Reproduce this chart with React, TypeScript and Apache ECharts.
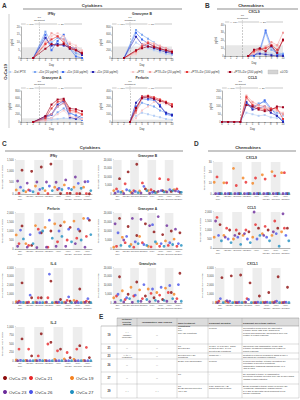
import { useEffect, useRef } from "react";
import * as echarts from "echarts";

const FONT = "Liberation Sans, Arial, Helvetica, sans-serif";

// ---------- Panels A/B: time courses per treatment condition ----------
const conditionNames = [
  "-Dz/-PTX",
  "+Dz (20 µg/ml)",
  "+Dz (100 µg/ml)",
  "+Dz (200 µg/ml)",
  "+PTX",
  "+PTX+Dz (20 µg/ml)",
  "+PTX+Dz (100 µg/ml)",
  "+PTX+Dz (200 µg/ml)",
];
const conditionColors = ["#b6cff5", "#7da7f1", "#3e6df0", "#2a27b3", "#f8c8c8", "#f29c9c", "#e63b3b", "#a1001d"];

const ifngDays = [2, 4, 5, 6, 7, 8, 9, 10];
const ifngValues = [
  [0, 12, 8, 10, 9, 7, 4, 3],
  [0, 17, 10, 13, 12, 6, 3, 2],
  [0, 15, 5, 11, 15, 6, 1, 0],
  [0, 13, 8, 9, 8, 7, 6, 2],
  [0, 8, 14, 16, 14, 10, 8, 5],
  [0, 10, 16, 14, 12, 9, 6, 4],
  [0, 9, 12, 14, 10, 7, 5, 3],
  [0, 6, 9, 8, 9, 6, 5, 3],
];

const gzmbDays = [2, 4, 5, 6, 7, 8, 9, 10];
const gzmbValues = [
  [0, 400, 300, 250, 200, 150, 100, 80],
  [0, 720, 600, 500, 400, 300, 250, 200],
  [0, 650, 480, 380, 300, 250, 180, 150],
  [0, 550, 350, 300, 250, 200, 150, 120],
  [0, 100, 250, 400, 380, 320, 250, 200],
  [0, 150, 350, 420, 350, 300, 250, 180],
  [0, 180, 300, 380, 300, 250, 200, 150],
  [0, 200, 250, 300, 280, 230, 200, 160],
];

const cxcl9Days = [4, 5, 6, 7, 8, 9, 10];
const cxcl9Values = [
  [0, 0, 2, 5, 3, 2, 3],
  [0, 0, 5, 30, 8, 4, 3],
  [0, 0, 8, 33, 12, 2, 1],
  [0, 2, 3, 2, 1, 0, 0],
  [0, 3, 6, 10, 15, 13, 22],
  [0, 5, 8, 12, 18, 14, 30],
  [0, 6, 9, 10, 14, 8, 20],
  [0, 8, 10, 6, 13, 4, 21],
];

const gzmaDays = [2, 4, 5, 6, 7, 8, 9, 10];
const gzmaValues = [
  [0, 30, 60, 80, 100, 90, 70, 50],
  [0, 80, 100, 250, 350, 220, 180, 100],
  [0, 120, 180, 400, 500, 250, 150, 60],
  [0, 150, 200, 450, 550, 120, 80, 180],
  [0, 30, 100, 200, 300, 150, 120, 80],
  [0, 60, 200, 400, 480, 260, 250, 180],
  [0, 100, 350, 520, 560, 300, 280, 200],
  [0, 150, 450, 580, 600, 350, 330, 280],
];

const prfDays = [3, 4, 5, 6, 7, 8, 9, 10];
const prfValues = [
  [0, 80, 120, 100, 80, 60, 40, 30],
  [0, 150, 250, 220, 200, 150, 120, 100],
  [0, 200, 300, 290, 280, 220, 100, 80],
  [0, 250, 330, 310, 300, 200, 120, 90],
  [0, 50, 150, 200, 260, 250, 230, 200],
  [0, 120, 300, 320, 310, 280, 250, 220],
  [0, 150, 330, 340, 320, 290, 260, 230],
  [0, 180, 310, 330, 300, 270, 250, 200],
];

const ccl5Days = [0, 1, 2, 3, 4, 5, 6, 7, 8, 9, 10];
const ccl5Values = [
  [0, 0, 0, 0, 60, 50, 40, 45, 30, 25, 40],
  [0, 0, 0, 0, 110, 90, 120, 130, 80, 60, 50],
  [0, 0, 0, 0, 120, 100, 110, 140, 90, 40, 10],
  [0, 0, 0, 0, 130, 80, 90, 100, 60, 40, 0],
  [0, 0, 0, 0, 150, 120, 100, 90, 80, 70, 60],
  [0, 0, 0, 0, 170, 130, 110, 100, 90, 80, 50],
  [0, 0, 0, 0, 160, 110, 90, 80, 85, 90, 20],
  [0, 0, 0, 0, 110, 100, 80, 70, 75, 100, 95],
];

// ---------- Panels C/D: total AUC per condition and cell line ----------
const treatments = [
  "-Dz/\n-PTX",
  "+Dz(20)",
  "+Dz(100)",
  "+Dz(200)",
  "+PTX",
  "+PTX\n+Dz(20)",
  "+PTX\n+Dz(100)",
  "+PTX\n+Dz(200)",
];
const cellLines = ["OvCa 29", "OvCa 21", "OvCa 19", "OvCa 23", "OvCa 26", "OvCa 27"];
const cellColors = ["#8c0b0b", "#e8282b", "#f5821f", "#6b2b9b", "#4a55e8", "#1f8fc0"];

// rows follow cellLines order
const aucIfng = [
  [1050, 1000, 1190, 1320, 20, 30, 20, 10],
  [30, 180, 20, 20, 200, 30, 20, 20],
  [180, 100, 350, 150, 300, 400, 300, 300],
  [570, 480, 530, 530, 520, 620, 750, 540],
  [300, 150, 200, 350, 250, 250, 470, 550],
  [150, 100, 250, 150, 200, 200, 250, 150],
];
const aucGzmb = [
  [9000, 13000, 17500, 3000, 1500, 2000, 1500, 1000],
  [3000, 6000, 2000, 6500, 2500, 9000, 8500, 3000],
  [2000, 1500, 1000, 1800, 2000, 1000, 1500, 2500],
  [500, 300, 500, 600, 400, 1500, 1200, 1800],
  [1500, 2500, 1500, 4500, 1000, 2000, 2500, 1500],
  [1000, 2000, 800, 2000, 800, 1200, 2000, 1000],
];
const aucCxcl9 = [
  [0.4, 0.4, 0.4, 0.4, 0.4, 0.4, 0.4, 0.4],
  [16, 10.5, 8, 11, 15, 14, 17, 20],
  [11, 10.5, 24, 15, 10, 18, 21, 20],
  [0.4, 0.4, 0.4, 0.4, 0.4, 0.4, 0.4, 0.4],
  [0.4, 0.4, 0.4, 0.4, 0.4, 0.4, 0.4, 0.4],
  [0.4, 0.4, 0.4, 0.4, 0.4, 0.4, 0.4, 0.4],
];
const aucPrf = [
  [1280, 200, 900, 1000, 1300, 1200, 1000, 1600],
  [300, 200, 1100, 100, 400, 500, 600, 700],
  [780, 300, 1300, 1200, 1400, 1500, 1550, 1700],
  [150, 100, 80, 100, 150, 150, 300, 100],
  [1050, 800, 900, 1600, 1000, 1100, 1100, 1700],
  [560, 300, 1000, 600, 700, 400, 500, 800],
];
const aucGzma = [
  [17000, 12500, 7500, 14000, 9500, 8000, 10000, 9000],
  [1500, 3500, 1000, 3500, 1200, 1500, 2000, 1500],
  [1000, 6500, 2500, 7000, 1500, 3000, 4500, 5500],
  [14000, 5000, 17000, 16500, 13000, 18000, 13000, 11000],
  [9000, 7000, 4000, 2500, 13500, 3000, 3500, 3000],
  [2000, 1500, 3000, 2000, 4000, 1500, 2500, 2000],
];
const aucCcl5 = [
  [1300, 1000, 800, 900, 1100, 1000, 1100, 1100],
  [1700, 1100, 1000, 1000, 1300, 1200, 1500, 1100],
  [600, 700, 500, 700, 600, 800, 700, 900],
  [1500, 600, 700, 800, 2000, 700, 900, 1900],
  [700, 500, 600, 500, 500, 600, 800, 700],
  [400, 300, 200, 300, 700, 400, 100, 400],
];
const aucIl6 = [
  [2300, 600, 600, 2500, 400, 200, 1600, 100],
  [200, 100, 600, 600, 50, 300, 200, 200],
  [150, 50, 100, 50, 50, 100, 300, 100],
  [50, 50, 50, 100, 100, 50, 50, 80],
  [100, 900, 50, 3300, 100, 700, 50, 500],
  [80, 60, 50, 50, 50, 50, 50, 50],
];
const aucGnly = [
  [15000, 5000, 12000, 4000, 3000, 2000, 6000, 17000],
  [4000, 2000, 4000, 2500, 5500, 4500, 6000, 2500],
  [3000, 7000, 9000, 7500, 8000, 6000, 8500, 5000],
  [500, 600, 400, 1000, 800, 900, 1000, 800],
  [5000, 3000, 4500, 10500, 8000, 9000, 10000, 10500],
  [1500, 2500, 1000, 2000, 1500, 1500, 2500, 1000],
];
const aucCxcl1 = [
  [2900, 3100, 3200, 2300, 800, 1200, 3000, 1800],
  [200, 100, 50, 500, 50, 100, 150, 100],
  [100, 150, 100, 100, 50, 100, 100, 50],
  [50, 250, 50, 100, 50, 50, 50, 50],
  [500, 200, 100, 400, 100, 100, 200, 100],
  [50, 50, 50, 50, 50, 50, 50, 50],
];
const aucIl2 = [
  [650, 150, 800, 550, 350, 100, 450, 100],
  [350, 350, 150, 500, 300, 250, 350, 400],
  [30, 20, 20, 20, 50, 60, 50, 20],
  [10, 10, 10, 10, 10, 10, 10, 10],
  [20, 10, 20, 10, 10, 10, 10, 10],
  [10, 10, 10, 10, 10, 10, 10, 10],
];

// ---------- Panel E: summary table ----------
const tableHeader = [
  "",
  "Cytokine effector ranking",
  "Inflammatory TME ranking",
  "Main treatment conditions",
  "Dominant mediator",
  "Dominant secretome pattern",
];
const tableIds = ["19", "21", "23", "26", "27", "29"];
const effectorRank = ["+++\n(durable/moderate)", "+/-", "+/- to ++\n(restricted)", "+/-", "+/-", "+++"];
const inflammatoryRank = ["+/-", "+/-", "+/-", "++", "+/-", "+++"];
const mainConditions = [
  "TIL\nPTX\nPTX+Dz conditions",
  "TIL\nSelected Dz",
  "Selected PTX+Dz conditions",
  "Dz/Dz+PTX(20/100/200)",
  "TIL",
  "TIL\nDz(20)/Dz(100)/selected PTX+Dz",
];
const dominantMediator = [
  "Perforin",
  "CXCL9, IL-6/CXCL9, CCL5, CXCL1/CXCL9, IL-6 in selected Dz conditions",
  "Granzyme A",
  "Perforin",
  "-",
  "IFNγ, granzyme A/B, granulysin and perforin",
];
const secretomePattern = [
  "Coordinated cross-donor TIL-associated cytokine profile with IFNγ, granzymes, perforin and granulysin; chemokines were low relative to cohort response",
  "Chemokine-rich inflammatory profile with cytokine mediators remaining low relative to cohort response",
  "Restricted cytotoxic program in which CXCL-9 and CCL5 are condition restricted",
  "Perforin and multiple cytokine mediators are detectable in selected conditions; inflammatory-trafficking signals include IL-6 and CXCL1",
  "No dominant cytokine or inflammatory secretome program; selected PTX+Dz CXCL9/CCL5 signals remain restricted",
  "Broad dominant cytokine profile in TIL/TIL+Dz conditions; inflammatory signals include IL-6 and CXCL1 with effect prominent in TIL and Dz conditions",
];

const AXIS = "#666";
const TXT = "#333";

function buildOption() {
  const grids: any[] = [];
  const xAxes: any[] = [];
  const yAxes: any[] = [];
  const series: any[] = [];
  const g: any[] = [];

  const text = (x: number, y: number, t: string, size: number, extra: any = {}) =>
    g.push({
      type: "text",
      x,
      y,
      silent: true,
      z: 10,
      style: {
        text: t,
        fontSize: size,
        fontFamily: FONT,
        fill: TXT,
        align: "center",
        verticalAlign: "middle",
        ...extra,
      },
    });
  const line = (x1: number, y1: number, x2: number, y2: number, stroke = "#aaa", lineWidth = 0.5, dash?: number[]) =>
    g.push({
      type: "line",
      silent: true,
      z: 10,
      shape: { x1, y1, x2, y2 },
      style: { stroke, lineWidth, lineDash: dash },
    });

  // section headers
  text(2, 5, "A", 6.5, { align: "left", fontWeight: "bold" });
  text(92, 5.5, "Cytokines", 4.3, { fontWeight: "bold" });
  line(23, 9, 182, 9, "#b5b5b5", 1.3);
  text(205, 5, "B", 6.5, { align: "left", fontWeight: "bold" });
  text(251, 5.5, "Chemokines", 4.3, { fontWeight: "bold" });
  line(217, 9, 298, 9, "#b5b5b5", 1.3);
  text(2, 143, "C", 6.5, { align: "left", fontWeight: "bold" });
  text(90, 147, "Cytokines", 4.3, { fontWeight: "bold" });
  line(5, 151, 183, 151, "#b5b5b5", 1.3);
  text(194, 143, "D", 6.5, { align: "left", fontWeight: "bold" });
  text(248, 147, "Chemokines", 4.3, { fontWeight: "bold" });
  line(208, 151, 296, 151, "#b5b5b5", 1.3);
  text(99, 316, "E", 6.5, { align: "left", fontWeight: "bold" });

  // row label for the time courses
  g.push({
    type: "text",
    x: 5,
    y: 72,
    rotation: Math.PI / 2,
    silent: true,
    style: { text: "OvCa19", fontSize: 4.2, fontWeight: "bold", fontFamily: FONT, fill: TXT, align: "center", verticalAlign: "middle" },
  });
  line(9, 14, 9, 128, "#999", 0.5);

  const timeCourse = [
    { title: "IFNγ", days: ifngDays, values: ifngValues, yMax: 20, yStep: 5, lod: 7, box: [21, 27, 61, 31] },
    { title: "Granzyme B", days: gzmbDays, values: gzmbValues, yMax: 800, yStep: 200, lod: 300, box: [112, 27, 60, 31] },
    { title: "CXCL9", days: cxcl9Days, values: cxcl9Values, yMax: 40, yStep: 10, lod: 14, box: [225, 25, 58, 31] },
    { title: "Granzyme A", days: gzmaDays, values: gzmaValues, yMax: 800, yStep: 200, lod: 100, box: [21, 91, 61, 31] },
    { title: "Perforin", days: prfDays, values: prfValues, yMax: 400, yStep: 100, lod: 30, box: [112, 91, 60, 31] },
    { title: "CCL5", days: ccl5Days, values: ccl5Values, yMax: 200, yStep: 50, lod: 0, box: [222, 91, 61, 31] },
  ];

  const baseX = (gi: number) => ({
    gridIndex: gi,
    axisLine: { lineStyle: { color: AXIS, width: 0.5 } },
    axisTick: { length: 1, lineStyle: { color: AXIS, width: 0.4 } },
    axisLabel: { fontSize: 2.6, color: "#444", margin: 1.4, fontFamily: FONT },
    splitLine: { show: false },
  });

  timeCourse.forEach((p, gi) => {
    const [left, top, width, height] = p.box;
    grids.push({ left, top, width, height });
    xAxes.push({
      ...baseX(gi),
      type: "value",
      min: 0,
      max: 10,
      interval: 1,
      name: "Day",
      nameLocation: "middle",
      nameGap: 5,
      nameTextStyle: { fontSize: 2.8, color: TXT, fontFamily: FONT },
    });
    yAxes.push({
      ...baseX(gi),
      type: "value",
      min: 0,
      max: p.yMax,
      interval: p.yStep,
      axisLine: { show: true, lineStyle: { color: AXIS, width: 0.5 } },
      name: "pg/ml",
      nameLocation: "middle",
      nameGap: 8,
      nameTextStyle: { fontSize: 2.8, color: TXT, fontFamily: FONT },
    });
    p.values.forEach((vals, si) => {
      const color = conditionColors[si];
      const s: any = {
        type: "line",
        name: conditionNames[si],
        xAxisIndex: gi,
        yAxisIndex: gi,
        data: p.days.map((d, k) => [d, vals[k]]),
        symbol: "rect",
        symbolSize: 2,
        lineStyle: { width: 0.6, color },
        itemStyle: { color },
        z: 3 + si,
        silent: true,
      };
      if (si === 0) {
        if (p.lod > 0) {
          s.markArea = {
            silent: true,
            itemStyle: { color: "rgba(170,170,170,0.28)" },
            data: [[{ yAxis: 0 }, { yAxis: p.lod }]],
          };
        }
        s.markLine = {
          silent: true,
          symbol: "none",
          label: { show: false },
          lineStyle: { type: "dashed", color: "#999", width: 0.5 },
          data: [{ xAxis: 3 }],
        };
      }
      series.push(s);
    });

    // titles and treatment annotations
    const tx = left + (width * 3) / 10;
    text(left + width / 2, top - 13, p.title, 3.4, { fontWeight: "bold" });
    text(tx, top - 8, "TIL\nTreatment", 2.4, { lineHeight: 2.6 });
    line(tx, top - 5, tx, top, "#999", 0.4, [1, 0.6]);
    line(left, top - 3, left + width, top - 3, "#777", 0.4);
    text((left + tx) / 2, top - 3, "+/- PTX", 2.3, { backgroundColor: "#fff", padding: [0, 0.5] });
    text((tx + left + width) / 2, top - 3, "+/- Dz", 2.3, { backgroundColor: "#fff", padding: [0, 0.5] });
  });

  // legend for the time courses
  const legendX = [10, 35, 63, 93, 133, 150, 187, 230];
  conditionNames.forEach((name, i) => {
    const x = legendX[i];
    line(x - 2.5, 72, x + 2.5, 72, conditionColors[i], 0.6);
    g.push({
      type: "rect",
      silent: true,
      z: 11,
      shape: { x: x - 1, y: 71, width: 2, height: 2 },
      style: { fill: conditionColors[i] },
    });
    text(x + 3.5, 72, name, 3.0, { align: "left" });
  });
  g.push({
    type: "rect",
    silent: true,
    z: 10,
    shape: { x: 268, y: 70, width: 10, height: 4 },
    style: { fill: "#d4d4d4", stroke: "#aaa", lineWidth: 0.3 },
  });
  text(280, 72, "≤LOD", 3.0, { align: "left" });

  // AUC dot panels
  const dotPanels = [
    { title: "IFNγ", values: aucIfng, yMax: 1500, yStep: 500, box: [15, 160, 77, 34] },
    { title: "Granzyme B", values: aucGzmb, yMax: 20000, yStep: 5000, box: [113, 160, 69, 34] },
    { title: "CXCL9", values: aucCxcl9, yMax: 30, yStep: 10, box: [213, 162, 77, 32] },
    { title: "Perforin", values: aucPrf, yMax: 2000, yStep: 500, box: [15, 213, 77, 36] },
    { title: "Granzyme A", values: aucGzma, yMax: 20000, yStep: 5000, box: [113, 213, 69, 36] },
    { title: "CCL5", values: aucCcl5, yMax: 2000, yStep: 500, box: [213, 212, 77, 36] },
    { title: "IL-6", values: aucIl6, yMax: 4000, yStep: 1000, box: [15, 268, 77, 35] },
    { title: "Granulysin", values: aucGnly, yMax: 20000, yStep: 5000, box: [113, 268, 69, 35] },
    { title: "CXCL1", values: aucCxcl1, yMax: 4000, yStep: 1000, box: [215, 268, 75, 35] },
    { title: "IL-2", values: aucIl2, yMax: 1000, yStep: 250, box: [15, 327, 77, 34] },
  ];
  const dotOffsets = [2.2, -0.8, -3.6, -2.2, 0.7, 3.6];

  dotPanels.forEach((p, k) => {
    const gi = timeCourse.length + k;
    const [left, top, width, height] = p.box;
    grids.push({ left, top, width, height });
    xAxes.push({
      ...baseX(gi),
      type: "category",
      data: treatments,
      axisTick: { show: false },
      axisLabel: { fontSize: 2.2, color: "#444", margin: 1.4, interval: 0, lineHeight: 2.5, fontFamily: FONT },
    });
    yAxes.push({
      ...baseX(gi),
      type: "value",
      min: 0,
      max: p.yMax,
      interval: p.yStep,
      axisLine: { show: true, lineStyle: { color: AXIS, width: 0.5 } },
      name: "Total AUC (day × pg/ml)",
      nameLocation: "middle",
      nameGap: p.yMax >= 10000 ? 9.5 : 8,
      nameTextStyle: { fontSize: 2.3, color: TXT, fontFamily: FONT },
    });
    series.push({
      type: "bar",
      xAxisIndex: gi,
      yAxisIndex: gi,
      data: treatments.map((_, i) => (i % 2 === 0 ? p.yMax : "-")),
      barWidth: "100%",
      itemStyle: { color: "#ededed" },
      silent: true,
      z: 1,
    });
    p.values.forEach((vals, li) => {
      series.push({
        type: "scatter",
        name: cellLines[li],
        xAxisIndex: gi,
        yAxisIndex: gi,
        data: vals,
        symbol: "circle",
        symbolSize: 2.8,
        symbolOffset: [dotOffsets[li], 0],
        itemStyle: { color: cellColors[li] },
        silent: true,
        z: 4,
      });
    });
    text(left + width / 2, top - 4.5, p.title, 3.3, { fontWeight: "bold" });
  });

  // table (panel E)
  const colEdges = [101, 117, 137, 177, 208, 242, 299];
  const rowEdges = [318, 326, 344, 353, 359, 372, 384, 398];
  g.push({
    type: "rect",
    silent: true,
    z: 9,
    shape: { x: colEdges[1], y: rowEdges[0], width: colEdges[6] - colEdges[1], height: rowEdges[1] - rowEdges[0] },
    style: { fill: "#dcdcdc" },
  });
  rowEdges.forEach((y, i) => line(i === 0 ? colEdges[1] : colEdges[0], y, colEdges[6], y, "#8a8a8a", i === 0 || i === 1 ? 0.5 : 0.3));
  colEdges.forEach((x, i) =>
    line(x, i === 0 ? rowEdges[1] : rowEdges[0], x, rowEdges[7], "#8a8a8a", 0.3)
  );
  const colText = (c: number, y: number, t: string, size: number, bold: boolean, centered: boolean) => {
    const x0 = colEdges[c];
    const w = colEdges[c + 1] - x0;
    g.push({
      type: "text",
      x: centered ? x0 + w / 2 : x0 + 1,
      y,
      silent: true,
      z: 12,
      style: {
        text: t,
        fontSize: size,
        fontWeight: bold ? "bold" : "normal",
        fontFamily: FONT,
        fill: TXT,
        align: centered ? "center" : "left",
        verticalAlign: centered ? "middle" : "top",
        width: w - 2,
        overflow: "break",
        lineHeight: size * 1.15,
      },
    });
  };
  tableHeader.forEach((h, c) => {
    if (h) colText(c, (rowEdges[0] + rowEdges[1]) / 2, h, 2.4, true, c < 3);
  });
  tableIds.forEach((id, r) => {
    const y0 = rowEdges[r + 1];
    const y1 = rowEdges[r + 2];
    const mid = (y0 + y1) / 2;
    colText(0, mid, id, 2.6, true, true);
    colText(1, mid, effectorRank[r], 2.2, false, true);
    colText(2, mid, inflammatoryRank[r], 2.2, false, true);
    colText(3, y0 + 0.8, mainConditions[r], 2.2, false, false);
    colText(4, y0 + 0.8, dominantMediator[r], 2.2, false, false);
    colText(5, y0 + 0.8, secretomePattern[r], 2.2, false, false);
  });

  // cell line key: two rows of three
  const keyX = [5, 31, 72];
  const keyY = [378, 392];
  cellLines.forEach((name, i) => {
    const col = i % 3;
    const row = Math.floor(i / 3);
    const order = [0, 1, 2, 3, 4, 5];
    const li = order[i];
    g.push({
      type: "circle",
      silent: true,
      z: 11,
      shape: { cx: keyX[col], cy: keyY[row], r: 2 },
      style: { fill: cellColors[li] },
    });
    text(keyX[col] + 4, keyY[row], cellLines[li], 4.4, { align: "left" });
  });

  return {
    animation: false,
    backgroundColor: "#ffffff",
    textStyle: { fontFamily: FONT },
    grid: grids,
    xAxis: xAxes,
    yAxis: yAxes,
    series,
    graphic: { elements: g },
  };
}

export default function App() {
  const ref = useRef<HTMLDivElement>(null);
  useEffect(() => {
    if (!ref.current) return;
    const chart = echarts.init(ref.current, undefined, { renderer: "svg" });
    chart.setOption(buildOption() as any);
    return () => chart.dispose();
  }, []);
  return (
    <div
      ref={ref}
      style={{ position: "absolute", left: 0, top: 0, width: 300, height: 400, background: "#fff" }}
    />
  );
}
